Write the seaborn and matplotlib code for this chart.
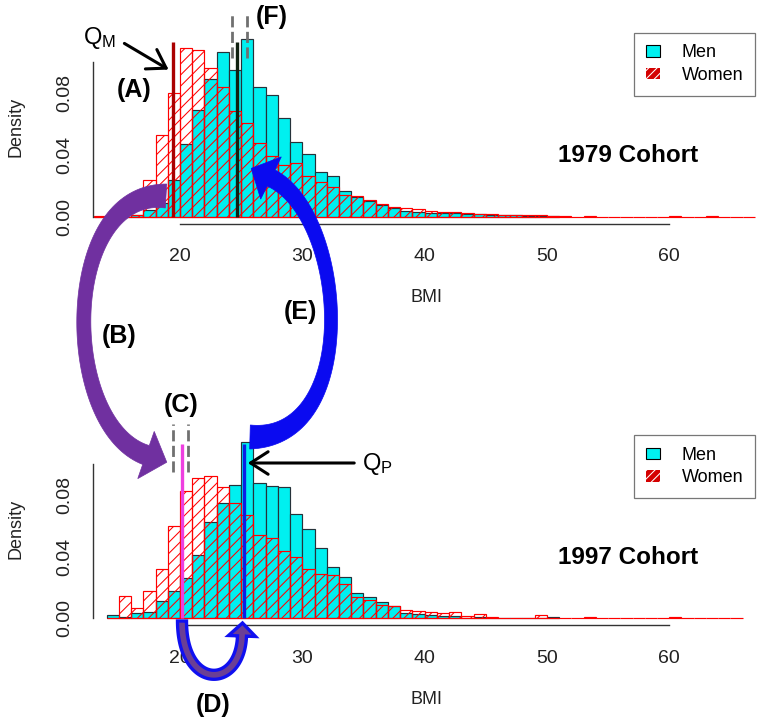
import numpy as np
import pandas as pd
import matplotlib
matplotlib.use("Agg")
import matplotlib.pyplot as plt
import seaborn as sns
from matplotlib.patches import Polygon, Patch, FancyArrowPatch

# ---- data (density per 1-unit BMI bin) ----
start_1979 = 13
men_1979 = [0, 0, 0, 0.001, 0.0043, 0.009, 0.024, 0.047, 0.069, 0.089, 0.106,
            0.0946, 0.1144, 0.0839, 0.0785, 0.0634, 0.0484, 0.0402, 0.029, 0.0262,
            0.0168, 0.0129, 0.0103, 0.0075, 0.0054, 0.0039, 0.003, 0.0026, 0.0025,
            0.0022, 0.002, 0.0015, 0.0012, 0.001, 0.0008, 0.0005, 0.0006, 0.0003]
women_1979 = [0.0005, 0, 0, 0.001, 0.0237, 0.0527, 0.0796, 0.109, 0.1075, 0.0957,
              0.084, 0.068, 0.0602, 0.0478, 0.0391, 0.0333, 0.0344, 0.0265, 0.0226,
              0.0189, 0.014, 0.0133, 0.0108, 0.0082, 0.0065, 0.0058, 0.0047, 0.0036,
              0.003, 0.0028, 0.0024, 0.0018, 0.0015, 0.0012, 0.001, 0.0008, 0.0012,
              0.0004, 0.0002, 0, 0.0002, 0, 0, 0, 0, 0, 0, 0.0003, 0, 0, 0.0002, 0, 0, 0]

start_1997 = 14
men_1997 = [0.002, 0.001, 0.0037, 0.0043, 0.0114, 0.0177, 0.026, 0.041, 0.0627,
            0.0747, 0.0866, 0.1147, 0.088, 0.086, 0.085, 0.0675, 0.0578, 0.0455,
            0.0333, 0.027, 0.0166, 0.0136, 0.0108, 0.0082, 0.0037, 0.0026, 0.0022,
            0.0017, 0.0015, 0.0005, 0.0006, 0.0003, 0.0002, 0.0002, 0.0002, 0.0005, 0.0006]
women_1997 = [0, 0.0145, 0.0065, 0.0177, 0.0318, 0.060, 0.0826, 0.0909, 0.0924,
              0.0855, 0.0747, 0.067, 0.054, 0.052, 0.0437, 0.040, 0.0318, 0.0286,
              0.028, 0.022, 0.0136, 0.0119, 0.0086, 0.0082, 0.0054, 0.005, 0.0043,
              0.0032, 0.0043, 0.0015, 0.0028, 0.001, 0.0003, 0.0003, 0.0003, 0.0022,
              0.0003, 0, 0, 0.0008, 0, 0, 0, 0, 0, 0, 0.0008, 0, 0, 0, 0, 0]

# quantile markers
q_m_1979 = 19.45      # (A) Q_M, women 1979
q_f_1979 = 24.64      # (F) men 1979
f_band = [24.23, 25.45]
q_c_1997 = 20.14      # (C) women 1997
c_band = [19.45, 20.68]
q_p_1997 = 25.26      # Q_P men 1997

W, H = 762, 724
DPI = 100

sns.set_style("white")
plt.rcParams["font.family"] = ["Liberation Sans", "DejaVu Sans"]
plt.rcParams["text.color"] = "black"
plt.rcParams["hatch.linewidth"] = 0.75

fig = plt.figure(figsize=(W / DPI, H / DPI), dpi=DPI)


def fx(x):
    return x / W


def fy(y):
    return 1 - y / H


ax1 = fig.add_axes([fx(93), fy(223.8), 667 / W, 190.9 / H])
ax2 = fig.add_axes([fx(93), fy(625.4), 667 / W, 191.4 / H])


def draw_hist(ax, start, men, women, ylim):
    me = [start + i for i in range(len(men) + 1)]
    we = [start + i for i in range(len(women) + 1)]
    dm = pd.DataFrame({"bmi": [b + 0.5 for b in me[:-1]], "dens": men})
    dw = pd.DataFrame({"bmi": [b + 0.5 for b in we[:-1]], "dens": women})
    sns.histplot(data=dm, x="bmi", weights="dens", bins=me, ax=ax, color="#00f0f0",
                 edgecolor="#26323a", linewidth=0.85, alpha=1)
    sns.histplot(data=dw, x="bmi", weights="dens", bins=we, ax=ax, fill=False,
                 color="red", hatch="///", linewidth=0.85)
    ax.set_xlim(20 - 87 / 12.23, 20 + 580 / 12.23)
    ax.set_ylim(*ylim)
    ax.set_xlabel("")
    ax.set_ylabel("")
    for s in ["top", "right"]:
        ax.spines[s].set_visible(False)
    ax.spines["left"].set_bounds(0, 0.10)
    ax.spines["bottom"].set_bounds(20, 60)
    for s in ["left", "bottom"]:
        ax.spines[s].set_color("#333333")
        ax.spines[s].set_linewidth(1)
    ax.set_xticks([20, 30, 40, 50, 60])
    ax.set_yticks([0, 0.02, 0.04, 0.06, 0.08, 0.10])
    ax.set_yticklabels(["0.00", "", "0.04", "", "0.08", ""])
    ax.tick_params(axis="both", length=7.5, width=1, color="#333333",
                   labelsize=14, labelcolor="#222222", direction="out")
    ax.tick_params(axis="x", pad=10)
    ax.tick_params(axis="y", pad=7, labelrotation=90)
    for lab in ax.get_yticklabels():
        lab.set_va("center")


draw_hist(ax1, start_1979, men_1979, women_1979, (-0.00456, 0.1186))
draw_hist(ax2, start_1997, men_1997, women_1997, (-0.0046, 0.1196))

# axis titles
for yc, yb in [(127, 298), (529, 700)]:
    fig.text(fx(16), fy(yc), "Density", rotation=90, ha="center", va="center",
             fontsize=13, color="#222222")
    fig.text(fx(426), fy(yb), "BMI", ha="center", va="center", fontsize=13,
             color="#222222")

# legends
handles = [Patch(facecolor="#00f0f0", edgecolor="black", lw=0.8),
           Patch(facecolor="#d40000", edgecolor="white", hatch="////", lw=0)]
for ax, ytop in [(ax1, 32.7), (ax2, 435)]:
    ax.legend(handles, ["Men", "Women"], loc="upper right",
              bbox_to_anchor=(fx(755), fy(ytop)), bbox_transform=fig.transFigure,
              fontsize=13, frameon=True, fancybox=False, edgecolor="#777777",
              framealpha=1, borderpad=0.65, handlelength=0.8, handleheight=0.6,
              handletextpad=1.2, labelspacing=0.3, borderaxespad=0)
    ax.get_legend().get_frame().set_linewidth(0.9)

fig.text(fx(558), fy(155), "1979 Cohort", fontsize=17.5, fontweight="bold",
         ha="left", va="center")
fig.text(fx(558), fy(557), "1997 Cohort", fontsize=17.5, fontweight="bold",
         ha="left", va="center")

# quantile lines
LW = 2.4
ax1.plot([q_m_1979] * 2, [0, 0.1129], color="#aa0000", lw=LW, solid_capstyle="butt")
ax1.plot([q_f_1979] * 2, [0, 0.1127], color="#102010", lw=LW, solid_capstyle="butt")
for xv in f_band:
    ax1.plot([xv] * 2, [0.1024, 0.132], color="#707070", lw=2,
             dashes=(4, 1.6), clip_on=False)
ax2.plot([q_c_1997] * 2, [0, 0.1132], color="#ee3fe0", lw=LW, solid_capstyle="butt")
ax2.plot([q_p_1997] * 2, [0, 0.1132], color="#0a1ee6", lw=LW, solid_capstyle="butt")
for xv in c_band:
    ax2.plot([xv] * 2, [0.0952, 0.126], color="#707070", lw=2,
             dashes=(4, 1.6), clip_on=False)

# Q arrows and labels
fig.text(fx(83), fy(38), r"$\mathregular{Q_M}$", fontsize=17, ha="left", va="center")
fig.text(fx(362), fy(464), r"$\mathregular{Q_P}$", fontsize=17, ha="left", va="center")
for (x0, y0), (x1, y1) in [((122, 42), (171, 71)), ((357, 463), (245, 463))]:
    fig.patches.append(FancyArrowPatch(
        (fx(x0), fy(y0)), (fx(x1), fy(y1)), transform=fig.transFigure,
        arrowstyle="->,head_length=0.7,head_width=0.45", mutation_scale=18,
        lw=2.2, color="black"))

# panel letters
for txt, (x, y) in {"(A)": (134, 90), "(B)": (119, 336), "(C)": (181, 405),
                    "(D)": (213, 705), "(E)": (300, 312), "(F)": (272, 17)}.items():
    fig.text(fx(x), fy(y), txt, fontsize=18, fontweight="bold", ha="center",
             va="center")


# curved block arrows (pixel coordinates, y down)
def band(p, w0, wm, w1, hl, hw, face, edge=None, elw=0.5):
    p = np.array(p, float)
    t = np.linspace(0, 1, 90)[:, None]
    pts = ((1 - t) ** 3 * p[0] + 3 * (1 - t) ** 2 * t * p[1]
           + 3 * (1 - t) * t ** 2 * p[2] + t ** 3 * p[3])
    der = (3 * (1 - t) ** 2 * (p[1] - p[0]) + 6 * (1 - t) * t * (p[2] - p[1])
           + 3 * t ** 2 * (p[3] - p[2]))
    tan = der / np.linalg.norm(der, axis=1)[:, None]
    nor = np.column_stack([-tan[:, 1], tan[:, 0]])
    tt = t[:, 0]
    w = np.where(tt < 0.5, wm + (w0 - wm) * (1 - 2 * tt) ** 2,
                 wm + (w1 - wm) * (2 * tt - 1) ** 2)
    left = pts + nor * w[:, None] / 2
    right = pts - nor * w[:, None] / 2
    e, d, n = pts[-1], tan[-1], nor[-1]
    head = np.array([e + n * hw / 2, e + d * hl, e - n * hw / 2])
    poly = np.vstack([left, head, right[::-1]])
    xy = np.column_stack([poly[:, 0] / W, 1 - poly[:, 1] / H])
    fig.patches.append(Polygon(xy, closed=True, transform=fig.transFigure,
                               facecolor=face, edgecolor=edge or face, lw=elw,
                               joinstyle="miter"))


band([(166, 196), (60, 190), (60, 425), (146, 455)], 24, 14, 20, 22, 50, "#7030a0")
band([(250, 437), (362, 440), (347, 215), (271, 178)], 24, 13, 18, 22, 47, "#0a0af0")
band([(182, 621), (182, 690), (240, 690), (242, 636)], 9, 9, 9, 13, 27, "#6b3f95",
     edge="#1010f0", elw=2.4)

fig.savefig("out.png", dpi=DPI)
